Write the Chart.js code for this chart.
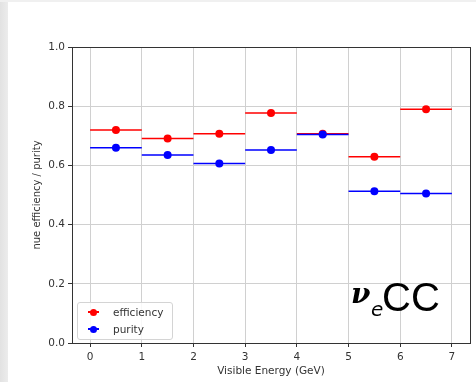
<!DOCTYPE html>
<html>
<head>
<meta charset="utf-8">
<script src="https://cdn.jsdelivr.net/npm/chart.js@4"></script>
<style>
	html, body { margin: 0; padding: 0; background: #fff; }
	#wrap { position: relative; width: 476px; height: 382px; overflow: hidden; }
	#edge { position: absolute; left: 0; top: 0; width: 8px; height: 382px; background: linear-gradient(to right, #e2e2e2, #ececec); }
	#topedge { position: absolute; left: 0; top: 0; width: 476px; height: 2px; background: #f0f0f0; }
	#legend {
		position: absolute; left: 77px; top: 302px; width: 94px; height: 36px;
		border: 1px solid #d4d4d4; border-radius: 3px; background: rgba(255,255,255,0.85);
		font-family: "DejaVu Sans", sans-serif; font-size: 10.5px; color: #333;
	}
	.item { position: absolute; left: 0; height: 14px; line-height: 14px; }
	.mk { position: absolute; left: 10px; top: 6px; width: 11px; height: 2px; }
	.dot { position: absolute; left: 12px; top: 3.5px; width: 7px; height: 7px; border-radius: 50%; }
	.lbl { position: absolute; left: 35px; top: 0; white-space: nowrap; }
	#tag { position: absolute; left: 0; top: 0; width: 476px; height: 382px; pointer-events: none; color: #000; }
	#tag span { position: absolute; white-space: nowrap; line-height: 1; }
	#tag .nu { left: 351px; top: 280px; font-family: "DejaVu Serif", serif; font-style: italic; font-weight: bold; font-size: 28px; }
	#tag .sub { left: 371px; top: 299px; font-family: "DejaVu Sans", sans-serif; font-style: italic; font-size: 20px; }
	#tag .cc { left: 382px; top: 277px; font-family: "Liberation Sans", Arial, sans-serif; font-size: 40px; }
</style>
</head>
<body>
<div id="wrap">
	<canvas id="effPurChart" width="476" height="382"></canvas>
	<div id="edge"></div>
	<div id="topedge"></div>
	<div id="legend">
		<div class="item" style="top:2px;"><span class="mk" style="background:#ff0000"></span><span class="dot" style="background:#ff0000"></span><span class="lbl">efficiency</span></div>
		<div class="item" style="top:19px;"><span class="mk" style="background:#0000ff"></span><span class="dot" style="background:#0000ff"></span><span class="lbl">purity</span></div>
	</div>
	<div id="tag"><span class="nu">ν</span><span class="sub">e</span><span class="cc">CC</span></div>
</div>
<script>
// bin edges in visible energy (GeV)
const binEdges = [0, 1, 2, 3, 4, 5, 6, 7];
const efficiency = [0.720, 0.691, 0.707, 0.777, 0.707, 0.629, 0.790];
const purity = [0.660, 0.635, 0.606, 0.652, 0.704, 0.513, 0.505];
const yTicks = [0.0, 0.2, 0.4, 0.6, 0.8, 1.0];

// horizontal segment for each bin, separated by gaps
function stepData(values)
{
	const pts = [];
	for (let i = 0; i < values.length; i++) {
		pts.push({x: binEdges[i], y: values[i]});
		pts.push({x: binEdges[i + 1], y: values[i]});
		pts.push({x: binEdges[i + 1], y: null});
	}
	return pts;
}

function centerData(values)
{
	return values.map((v, i) => ({x: (binEdges[i] + binEdges[i + 1]) / 2, y: v}));
}

// draws the full frame (top and right spines too)
const framePlugin = {
	id: 'frame',
	afterDatasetsDraw(chart) {
		const a = chart.chartArea;
		const ctx = chart.ctx;
		ctx.save();
		ctx.strokeStyle = '#333';
		ctx.lineWidth = 1;
		ctx.strokeRect(Math.round(a.left) + 0.5, Math.round(a.top) + 0.5, Math.round(a.right - a.left), Math.round(a.bottom - a.top));
		ctx.restore();
	}
};

const tickFont = {family: 'DejaVu Sans', size: 10.5};

const ctx = document.getElementById('effPurChart').getContext('2d');
new Chart(ctx, {
	type: 'line',
	data: {
		datasets: [
			{
				label: 'efficiency',
				data: stepData(efficiency),
				borderColor: '#ff0000',
				borderWidth: 1.5,
				pointRadius: 0,
				spanGaps: false,
				order: 4
			},
			{
				label: 'efficiency points',
				data: centerData(efficiency),
				showLine: false,
				pointRadius: 4,
				pointBackgroundColor: '#ff0000',
				pointBorderWidth: 0,
				order: 3
			},
			{
				label: 'purity',
				data: stepData(purity),
				borderColor: '#0000ff',
				borderWidth: 1.5,
				pointRadius: 0,
				spanGaps: false,
				order: 2
			},
			{
				label: 'purity points',
				data: centerData(purity),
				showLine: false,
				pointRadius: 4,
				pointBackgroundColor: '#0000ff',
				pointBorderWidth: 0,
				order: 1
			}
		]
	},
	options: {
		responsive: false,
		animation: false,
		layout: {padding: {left: 28, top: 47, right: 6, bottom: 0}},
		scales: {
			x: {
				type: 'linear',
				min: -0.35,
				max: 7.35,
				afterBuildTicks: (axis) => { axis.ticks = binEdges.map(v => ({value: v})); },
				afterFit: (axis) => { axis.height = 39; },
				grid: {color: '#d0d0d0', tickColor: '#333', tickLength: 4},
				border: {color: '#333'},
				ticks: {color: '#333', font: tickFont, padding: 4, maxRotation: 0},
				title: {display: true, text: 'Visible Energy (GeV)', color: '#333', font: tickFont, padding: {top: 0}}
			},
			y: {
				min: 0,
				max: 1,
				afterBuildTicks: (axis) => { axis.ticks = yTicks.map(v => ({value: v})); },
				afterFit: (axis) => { axis.width = 44; },
				grid: {color: '#d0d0d0', tickColor: '#333', tickLength: 4},
				border: {color: '#333'},
				ticks: {color: '#333', font: tickFont, padding: 3, callback: (v) => v.toFixed(1)},
				title: {display: true, text: 'nue efficiency / purity', color: '#333', font: {family: 'DejaVu Sans', size: 10}, padding: {top: 3, bottom: 0}}
			}
		},
		plugins: {
			legend: {display: false},
			tooltip: {enabled: false}
		}
	},
	plugins: [framePlugin]
});
</script>
</body>
</html>
